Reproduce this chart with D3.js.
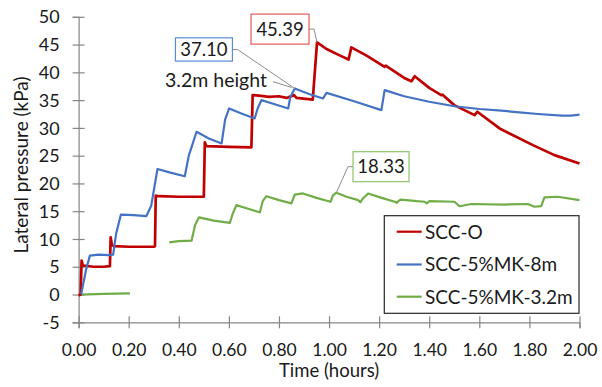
<!DOCTYPE html>
<html>
<head>
<meta charset="utf-8">
<script src="https://cdn.jsdelivr.net/npm/d3@7/dist/d3.min.js"></script>
<style>
  html, body { margin: 0; padding: 0; background: #fff; }
  svg text { font-family: Lato, "Open Sans", sans-serif; fill: #1a1a1a; }
</style>
</head>
<body>
<svg id="chart" width="602" height="387"></svg>
<script>
// Lateral formwork pressure versus time (hours)
const xTicks = [0, 0.2, 0.4, 0.6, 0.8, 1.0, 1.2, 1.4, 1.6, 1.8, 2.0];
const yTicks = [-5, 0, 5, 10, 15, 20, 25, 30, 35, 40, 45, 50];
const seriesNames = ["SCC-O", "SCC-5%MK-8m", "SCC-5%MK-3.2m"];
const seriesColors = ["#c00000", "#4472c4", "#70ad47"];

// SCC-O
const timeO = [0.000, 0.008, 0.012, 0.016, 0.020, 0.060, 0.100, 0.125, 0.128, 0.133, 0.140, 0.200, 0.300, 0.305,
  0.308, 0.320, 0.400, 0.500, 0.504, 0.510, 0.600, 0.690, 0.695, 0.720, 0.760, 0.800, 0.830, 0.860, 0.870, 0.935,
  0.952, 0.990, 1.040, 1.078, 1.089, 1.150, 1.222, 1.226, 1.300, 1.329, 1.342, 1.400, 1.448, 1.452, 1.500, 1.581,
  1.592, 1.681, 1.814, 1.900, 2.000];
const pressureO = [-0.2, 0.0, 6.1, 5.4, 5.2, 5.0, 5.0, 5.1, 10.3, 8.9, 8.7, 8.6, 8.6, 8.7,
  17.8, 17.7, 17.6, 17.6, 27.4, 26.7, 26.6, 26.5, 35.9, 35.8, 35.6, 35.7, 35.4, 35.9, 35.4, 35.1,
  45.39, 44.2, 43.1, 42.3, 44.5, 43.0, 41.0, 41.2, 39.0, 38.4, 39.3, 37.2, 35.9, 36.0, 34.1, 32.3,
  32.9, 29.9, 26.9, 25.1, 23.6];

// SCC-5%MK-8m
const time8m = [0.010, 0.030, 0.045, 0.080, 0.120, 0.138, 0.150, 0.169, 0.220, 0.270, 0.290, 0.315, 0.370, 0.424,
  0.440, 0.471, 0.520, 0.571, 0.585, 0.601, 0.650, 0.703, 0.715, 0.730, 0.780, 0.837, 0.845, 0.863, 0.920, 0.976,
  0.990, 1.100, 1.209, 1.222, 1.300, 1.400, 1.501, 1.600, 1.688, 1.760, 1.834, 1.930, 1.967, 2.000];
const pressure8m = [0.0, 4.5, 7.0, 7.2, 7.1, 7.2, 11.0, 14.4, 14.3, 14.1, 16.0, 22.6, 21.9, 21.3,
  25.0, 29.3, 28.1, 27.2, 31.5, 33.5, 32.6, 31.7, 33.5, 35.0, 34.3, 33.5, 35.5, 37.10, 36.1, 35.3,
  36.3, 34.8, 33.2, 36.8, 35.7, 34.7, 33.9, 33.4, 33.1, 32.8, 32.5, 32.2, 32.2, 32.4];

// SCC-5%MK-3.2m (null marks the gap in the record)
const time32m = [0.005, 0.100, 0.205, 0.280, 0.362, 0.400, 0.451, 0.465, 0.481, 0.540, 0.604, 0.615, 0.630, 0.680,
  0.724, 0.735, 0.750, 0.800, 0.850, 0.863, 0.896, 0.950, 1.006, 1.015, 1.029, 1.070, 1.116, 1.125, 1.135, 1.156,
  1.210, 1.262, 1.270, 1.285, 1.309, 1.350, 1.382, 1.390, 1.400, 1.501, 1.521, 1.568, 1.700, 1.794, 1.820, 1.847,
  1.860, 1.913, 2.000];
const pressure32m = [0.0, 0.1, 0.2, null, 9.4, 9.6, 9.7, 12.5, 13.9, 13.3, 12.9, 14.5, 16.1, 15.4,
  14.8, 16.8, 17.7, 17.0, 16.4, 18.0, 18.2, 17.4, 16.7, 17.8, 18.33, 17.6, 17.0, 16.6, 17.3, 18.2,
  17.4, 16.7, 16.5, 17.1, 17.0, 16.8, 16.7, 16.4, 16.8, 16.7, 15.9, 16.3, 16.2, 16.3, 15.8, 15.9,
  17.5, 17.6, 17.0];

// Peak call-outs: series index, time of the peak, value
const calloutSeries = [0, 1, 2];
const calloutTimes = [0.952, 0.863, 1.029];
const calloutValues = [45.39, 37.10, 18.33];

const svg = d3.select("#chart");
const x = d3.scaleLinear().domain([0, 2]).range([78.6, 579.5]);
const y = d3.scaleLinear().domain([-5, 50]).range([322.3, 16.8]);
const axisColor = "#868686";

// Y axis
const gy = svg.append("g").attr("transform", `translate(${x(0)},0)`)
  .call(d3.axisLeft(y).tickValues(yTicks).tickSizeOuter(0).tickSize(6).tickFormat(d => String(d)));
gy.select(".domain").attr("stroke", axisColor).attr("stroke-width", 1.2);
gy.selectAll(".tick line").attr("x1", -6).attr("x2", 6).attr("stroke", axisColor).attr("stroke-width", 1.2);
gy.selectAll(".tick text").attr("x", -19).attr("dy", "0.34em")
  .style("font-size", "18px").style("font-family", "Lato, sans-serif").attr("fill", "#1a1a1a");

// X axis along the bottom of the frame
const gx = svg.append("g").attr("transform", `translate(0,${y(-5)})`)
  .call(d3.axisBottom(x).tickValues(xTicks).tickSizeOuter(0).tickSize(6).tickFormat(d3.format(".2f")));
gx.select(".domain").attr("stroke", axisColor).attr("stroke-width", 1.2);
gx.selectAll(".tick line").attr("y1", -6).attr("y2", 6).attr("stroke", axisColor).attr("stroke-width", 1.2);
gx.selectAll(".tick text").attr("y", 33.5).attr("dy", 0)
  .style("font-size", "17.5px").style("font-family", "Lato, sans-serif").attr("fill", "#1a1a1a");

// Axis titles
svg.append("text").attr("x", x(1)).attr("y", 377).attr("text-anchor", "middle")
  .style("font-size", "18.5px").text("Time (hours)");
svg.append("text").attr("transform", `translate(28,${165}) rotate(-90)`).attr("text-anchor", "middle")
  .style("font-size", "19px").text("Lateral pressure (kPa)");

// Series lines
const series = [
  { t: timeO, p: pressureO },
  { t: time8m, p: pressure8m },
  { t: time32m, p: pressure32m }
];
const line = d3.line()
  .defined(d => d[1] !== null)
  .x(d => x(d[0])).y(d => y(d[1]));
const drawOrder = [2, 0, 1];
drawOrder.forEach(i => {
  const pts = series[i].t.map((t, k) => [t, series[i].p[k]]);
  svg.append("path").datum(pts)
    .attr("fill", "none").attr("stroke", seriesColors[i])
    .attr("stroke-width", i === 0 ? 2.7 : 2.2)
    .attr("stroke-linejoin", "round").attr("d", line);
});

// Call-outs
const boxColors = ["#e05a5a", "#5b8bd6", "#8ec46a"];
const boxLayout = [
  { dx: -37, dy: -13.3, w: 58, h: 30, side: "right" },
  { dx: -90.8, dy: -39, w: 57, h: 23.3, side: "right" },
  { dx: 44.7, dy: -26, w: 56, h: 30, side: "left" }
];
calloutSeries.forEach((s, i) => {
  const px = x(calloutTimes[i]), py = y(calloutValues[i]);
  const L = boxLayout[i];
  const cx = px + L.dx, cy = py + L.dy;
  const edgeX = L.side === "right" ? cx + L.w / 2 : cx - L.w / 2;
  const elbowX = L.side === "right" ? edgeX + 5 : edgeX - 5;
  svg.append("path")
    .attr("d", `M${edgeX},${cy}L${elbowX},${cy}L${px},${py}`)
    .attr("fill", "none").attr("stroke", "#8c8c8c").attr("stroke-width", 1);
  svg.append("rect")
    .attr("x", cx - L.w / 2).attr("y", cy - L.h / 2).attr("width", L.w).attr("height", L.h)
    .attr("fill", "#fff").attr("stroke", boxColors[s]).attr("stroke-width", 1.2);
  svg.append("text").attr("x", cx).attr("y", cy).attr("dy", "0.36em").attr("text-anchor", "middle")
    .style("font-size", "18.5px").text(d3.format(".2f")(calloutValues[i]));
});

// Note for the 3.2 m pour height
const noteT = 0.863, noteP = 37.10;
svg.append("text").attr("x", 165).attr("y", 87).style("font-size", "19.5px").text("3.2m height");
svg.append("path")
  .attr("d", `M273,81.7L${x(noteT) - 3},${y(noteP) - 1}`)
  .attr("fill", "none").attr("stroke", "#8c8c8c").attr("stroke-width", 1);

// Legend
const lg = svg.append("g");
lg.append("rect").attr("x", 384.3).attr("y", 215.7).attr("width", 194.7).attr("height", 97.6)
  .attr("fill", "#fff").attr("stroke", "#262626").attr("stroke-width", 1.2);
const rowY = [231.7, 264.5, 296.7];
seriesNames.forEach((name, i) => {
  lg.append("line").attr("x1", 396.7).attr("x2", 421.7).attr("y1", rowY[i]).attr("y2", rowY[i])
    .attr("stroke", seriesColors[i]).attr("stroke-width", 2.2);
  lg.append("text").attr("x", 425).attr("y", rowY[i]).attr("dy", "0.36em")
    .style("font-size", "19px").text(name);
});
</script>
</body>
</html>
